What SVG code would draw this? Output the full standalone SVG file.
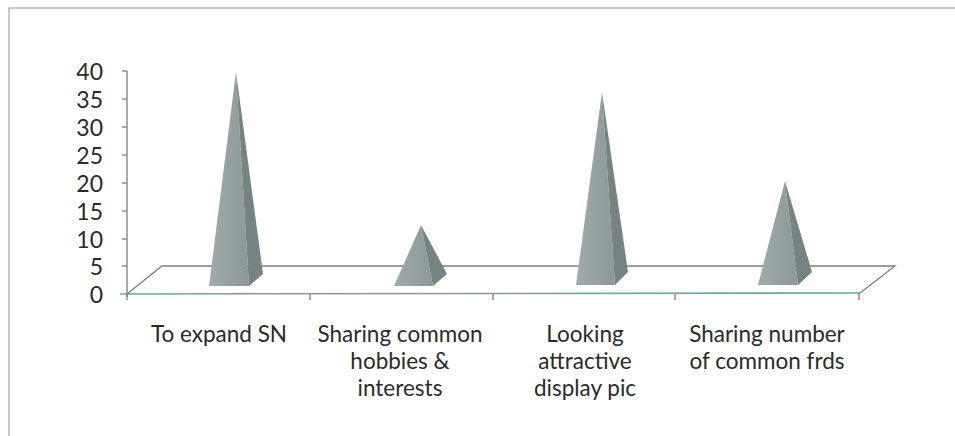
<svg xmlns="http://www.w3.org/2000/svg" width="955" height="436" viewBox="0 0 955 436">
  <defs>
    <style>
      .frame { fill: none; stroke: #a5a5a5; stroke-width: 1.2; }
      .axis { fill: none; stroke: #7d7d7d; stroke-width: 1.3; }
      .front-edge { fill: none; stroke: #6aa898; stroke-width: 1.6; }
      .face-front { fill: url(#faceFront); }
      .face-side { fill: #758483; }
      .ylab { font-family: Lato, "Open Sans", "Liberation Sans", sans-serif; font-size: 23px; fill: #2a2a2a; text-anchor: end; }
      .xlab { font-family: Lato, "Open Sans", "Liberation Sans", sans-serif; font-size: 22.5px; fill: #2a2a2a; text-anchor: middle; }
    </style>
    <linearGradient id="faceFront" x1="0" y1="0" x2="1" y2="0">
      <stop offset="0" stop-color="#a0acab"/>
      <stop offset="1" stop-color="#8b9897"/>
    </linearGradient>
  </defs>

  <!-- outer chart border -->
  <rect class="frame" x="9" y="8" width="960" height="440"/>

  <!-- axes, floor and tick marks -->
  <g id="axes">
    <line class="axis" x1="127" y1="71" x2="127" y2="297"/>
    <g class="axis">
      <line x1="122" y1="71" x2="127" y2="71"/>
      <line x1="122" y1="99" x2="127" y2="99"/>
      <line x1="122" y1="127" x2="127" y2="127"/>
      <line x1="122" y1="155" x2="127" y2="155"/>
      <line x1="122" y1="183" x2="127" y2="183"/>
      <line x1="122" y1="211" x2="127" y2="211"/>
      <line x1="122" y1="239" x2="127" y2="239"/>
      <line x1="122" y1="266" x2="127" y2="266"/>
    </g>
    <!-- floor back edge and side edges -->
    <polyline class="axis" points="127,294 162,266 895,266 860,293"/>
    <!-- floor front edge -->
    <line class="front-edge" x1="120" y1="294" x2="860" y2="293"/>
    <g class="axis">
      <line x1="127" y1="294" x2="127" y2="300"/>
      <line x1="310" y1="294" x2="310" y2="300"/>
      <line x1="493" y1="294" x2="493" y2="300"/>
      <line x1="675" y1="294" x2="675" y2="300"/>
      <line x1="859" y1="293" x2="859" y2="300"/>
    </g>
  </g>

  <!-- value axis labels -->
  <g id="y-labels">
    <text class="ylab" x="103" y="80">40</text>
    <text class="ylab" x="103" y="108">35</text>
    <text class="ylab" x="103" y="136">30</text>
    <text class="ylab" x="103" y="164">25</text>
    <text class="ylab" x="103" y="192">20</text>
    <text class="ylab" x="103" y="220">15</text>
    <text class="ylab" x="103" y="248">10</text>
    <text class="ylab" x="103" y="275">5</text>
    <text class="ylab" x="103" y="303">0</text>
  </g>

  <!-- pyramids -->
  <g id="pyramid-expand-sn">
    <polygon class="face-front" points="209,286 249,286 236,72"/>
    <polygon class="face-side" points="249,286 263,274 236,72"/>
  </g>
  <g id="pyramid-hobbies">
    <polygon class="face-front" points="394,286 433,286 421,225"/>
    <polygon class="face-side" points="433,286 447,274 421,225"/>
  </g>
  <g id="pyramid-display-pic">
    <polygon class="face-front" points="576,285 615,285 602,92"/>
    <polygon class="face-side" points="615,285 628,272 602,92"/>
  </g>
  <g id="pyramid-common-frds">
    <polygon class="face-front" points="758,285 798,285 785,181"/>
    <polygon class="face-side" points="798,285 812,272 785,181"/>
  </g>

  <!-- category labels -->
  <g id="x-labels">
    <text class="xlab" x="219" y="342">To expand SN</text>
    <text class="xlab" x="400" y="342">Sharing common</text>
    <text class="xlab" x="400" y="369">hobbies &amp;</text>
    <text class="xlab" x="400" y="396">interests</text>
    <text class="xlab" x="585" y="342">Looking</text>
    <text class="xlab" x="585" y="369">attractive</text>
    <text class="xlab" x="585" y="396">display pic</text>
    <text class="xlab" x="767" y="342">Sharing number</text>
    <text class="xlab" x="767" y="369">of common frds</text>
  </g>
</svg>
